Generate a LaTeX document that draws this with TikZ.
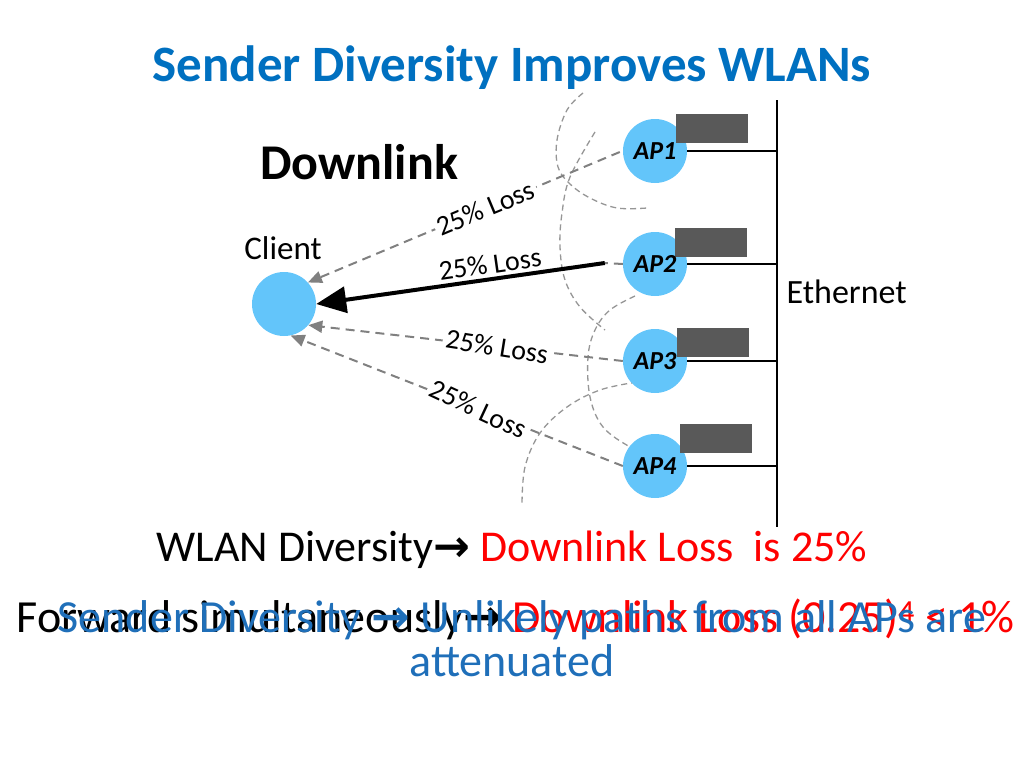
\documentclass[tikz,border=0pt]{standalone}
\usepackage{fontspec}
\setmainfont{Carlito}
\newfontfamily\arrfont{DejaVu Sans}
\usetikzlibrary{arrows.meta,calc}
\definecolor{apblue}{RGB}{99,197,250}
\definecolor{titleblue}{RGB}{0,112,192}
\definecolor{boxgray}{RGB}{89,89,89}
\definecolor{dashgray}{RGB}{128,128,128}
\definecolor{arcgray}{RGB}{150,150,150}
\definecolor{lossred}{RGB}{255,0,0}
\definecolor{textblue}{RGB}{31,111,185}
\newcommand{\fsz}[2]{\fontsize{#1}{#2}\selectfont}
\newcommand{\rarr}{{\arrfont\bfseries →}}
\begin{document}
\begin{tikzpicture}[x=1pt,y=-1pt,
  apc/.style={circle, fill=apblue, minimum size=64pt, inner sep=0pt},
  aplab/.style={inner sep=0pt, font=\fsz{26}{30}\bfseries\itshape},
  apbox/.style={fill=boxgray, minimum width=72pt, minimum height=29pt, inner sep=0pt},
  wire/.style={line width=2pt},
  rarrow/.style={dashgray, line width=2pt, dash pattern=on 9pt off 6pt, -{Triangle[length=14pt,width=12pt]}},
  losslab/.style={fill=white, text=black, inner sep=3pt, font=\fsz{28}{32}},
  arcline/.style={arcgray, line width=1.3pt, dash pattern=on 6pt off 4pt}]
\useasboundingbox (0,0) rectangle (1024,768);

% title and headings
\node[font=\fsz{51}{58}\bfseries, text=titleblue] (title) at (512,68) {Sender Diversity Improves WLANs};
\node[font=\fsz{50}{56}\bfseries] (dl) at (359,162) {Downlink};
\node[font=\fsz{33}{38}] (clientlab) at (283,248) {Client};

% ethernet
\coordinate (ethtop) at (777,100);
\coordinate (ethbot) at (777,527);
\draw[line width=2.5pt] (ethtop) -- (ethbot);
\node[font=\fsz{34}{38}, anchor=west] (ethlab) at (783,292) {Ethernet};

% dashed coverage arcs
\draw[arcline] plot[smooth, tension=0.6] coordinates {(583,93) (567,110) (557,140) (558,167) (570,184) (590,198) (617,208) (647,208)};
\draw[arcline] plot[smooth, tension=0.6] coordinates {(595,132) (570,177) (562,213) (560,247) (565,280) (580,307) (605,330)};
\draw[arcline] plot[smooth, tension=0.6] coordinates {(635,296) (610,310) (595,330) (588,357) (590,397) (603,427) (630,447) (647,453)};
\draw[arcline] plot[smooth, tension=0.6] coordinates {(637,382) (600,390) (567,407) (540,433) (525,467) (522,505)};

% APs
\node[apc] (AP1) at (655,151) {};
\node[apc] (AP2) at (655,264) {};
\node[apc] (AP3) at (655,361) {};
\node[apc] (AP4) at (655,466) {};
\foreach \i in {1,...,4} \draw[wire] (AP\i.east) -- (AP\i.east -| ethtop);
\node[apbox] (B1) at (712,128.5) {};
\node[apbox] (B2) at (711,242.5) {};
\node[apbox] (B3) at (713,342.5) {};
\node[apbox] (B4) at (715.5,438.5) {};
\foreach \i in {1,...,4} \node[aplab] (L\i) at (AP\i) {AP\i};

% client
\node[apc] (client) at (284,304) {};

% links
\draw[rarrow] ($(AP1.west)+(-3,1)$) -- node[losslab, pos=0.43, sloped] {25\% Loss} (client.42);
\coordinate (a2) at ($(AP2.west)+(-18,-1)$);
\draw[dashgray, line width=2pt, dash pattern=on 9pt off 6pt] (AP2.west) -- (a2);
\draw[line width=4pt, -{Triangle[length=30pt,width=26pt]}] (a2) -- node[pos=0.39, sloped, above=0pt, font=\fsz{28}{32}] {25\% Loss} (client.east);
\draw[rarrow] (AP3.west) -- node[losslab, pos=0.40, rotate=-9] {25\% Loss} (client.-41);
\draw[rarrow] (AP4.west) -- node[losslab, pos=0.435, rotate=-25] {25\% Loss} (client.-78);

% bottom texts
\node[font=\fsz{44}{50}, anchor=center] (wlan) at (512,550) {WLAN Diversity\rarr\ \textcolor{lossred}{Downlink Loss \ is 25\%}};
\node[font=\fsz{46}{50}, anchor=base west] (fwd) at (13,632) {Forward simultaneously\rarr\ \textcolor{lossred}{Downlink Loss (0.25)\textsuperscript{4} < 1\%}};
\node[font=\fsz{46}{44}, text=textblue, align=center, anchor=base] (sd) at (522,676) {Sender Diversity \rarr\ Unlikely paths from all APs are\\attenuated\hspace*{20pt}};
\end{tikzpicture}
\end{document}
